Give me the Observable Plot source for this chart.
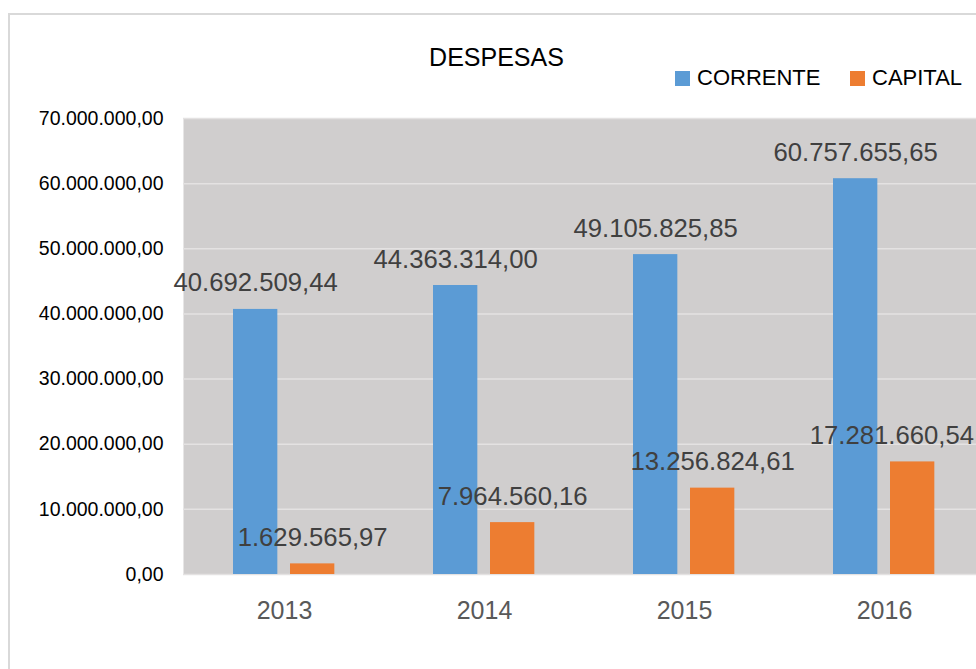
<!DOCTYPE html>
<html>
<head>
<meta charset="utf-8">
<script src="https://cdn.jsdelivr.net/npm/d3@7"></script>
<script src="https://cdn.jsdelivr.net/npm/@observablehq/plot@0.6"></script>
<style>
  html, body { margin: 0; padding: 0; background: #fff; }
  #wrap { position: relative; width: 976px; height: 669px; overflow: hidden; font-family: "Liberation Sans", Arial, sans-serif; }
  #border { position: absolute; left: 8px; top: 13px; width: 2000px; height: 2000px; border-left: 2px solid #d9d9d9; border-top: 2px solid #d9d9d9; }
  #title { position: absolute; left: 0; width: 993px; top: 45px; text-align: center; font-size: 25px; line-height: 25px; color: #000; }
  .leg { position: absolute; top: 67px; height: 22px; line-height: 22px; font-size: 22px; color: #000; white-space: nowrap; }
  .sw { position: absolute; left: 0; top: 4px; width: 15px; height: 15px; }
  .lt { position: absolute; left: 22px; top: 0; }
  #chart { position: absolute; left: 0; top: 100px; }
</style>
</head>
<body>
<div id="wrap">
  <div id="border"></div>
  <div id="title"></div>
  <div id="legend"></div>
  <div id="chart"></div>
</div>
<script>
const title = "DESPESAS";
const years = ["2013", "2014", "2015", "2016"];
const series = ["CORRENTE", "CAPITAL"];
const colors = ["#5b9bd5", "#ed7d31"];
const corrente = [40692509.44, 44363314.00, 49105825.85, 60757655.65];
const capital = [1629565.97, 7964560.16, 13256824.61, 17281660.54];
const yTicks = [0, 10000000, 20000000, 30000000, 40000000, 50000000, 60000000, 70000000];

const locale = d3.formatLocale({decimal: ",", thousands: ".", grouping: [3], currency: ["", ""]});
const fmt = locale.format(",.2f");

document.getElementById("title").textContent = title;
const legendLeft = [675, 850];
const legend = document.getElementById("legend");
series.forEach((s, i) => {
  const item = document.createElement("div");
  item.className = "leg";
  item.style.left = legendLeft[i] + "px";
  item.innerHTML = `<span class="sw" style="background:${colors[i]}"></span><span class="lt">${s}</span>`;
  legend.appendChild(item);
});

const rowsC = years.map((y, i) => ({year: y, value: corrente[i]}));
const rowsK = years.map((y, i) => ({year: y, value: capital[i]}));
const rowsKInner = rowsK.slice(0, rowsK.length - 1);
const rowsKLast = rowsK.slice(rowsK.length - 1);

const band = 200.67;
const font = "Liberation Sans, Arial, sans-serif";
const labelStyle = {fontSize: 25.7, fill: "#404040", lineAnchor: "bottom", dy: -18};

const chart = Plot.plot({
  width: 976,
  height: 569,
  marginTop: 18,
  marginBottom: 95,
  marginLeft: 183,
  marginRight: 0,
  style: {fontFamily: font, background: "transparent"},
  x: {type: "band", domain: years, range: [183, 183 + band * years.length], padding: 0},
  y: {domain: [0, 70000000]},
  marks: [
    Plot.frame({fill: "#d0cece", stroke: null}),
    Plot.ruleY(yTicks, {stroke: "#e4e2e2", strokeWidth: 1.5}),
    Plot.barY(rowsC, {x: "year", y: "value", fill: colors[0], insetLeft: 49, insetRight: band - 94}),
    Plot.barY(rowsK, {x: "year", y: "value", fill: colors[1], insetLeft: 106, insetRight: band - 151}),
    Plot.text(rowsC, {x: "year", y: "value", text: d => fmt(d.value), dx: 71.5 - band / 2, ...labelStyle}),
    Plot.text(rowsKInner, {x: "year", y: "value", text: d => fmt(d.value), dx: 128.5 - band / 2, ...labelStyle}),
    Plot.text(rowsKLast, {x: "year", y: "value", text: d => fmt(d.value), dx: 89.5, textAnchor: "end", ...labelStyle}),
    Plot.axisY({ticks: yTicks, tickFormat: fmt, tickSize: 0, tickPadding: 20, fontSize: 19.5, fill: "#000", label: null}),
    Plot.axisX({tickSize: 0, tickPadding: 27, fontSize: 25, fill: "#595959", label: null})
  ]
});
document.getElementById("chart").appendChild(chart);
</script>
</body>
</html>
